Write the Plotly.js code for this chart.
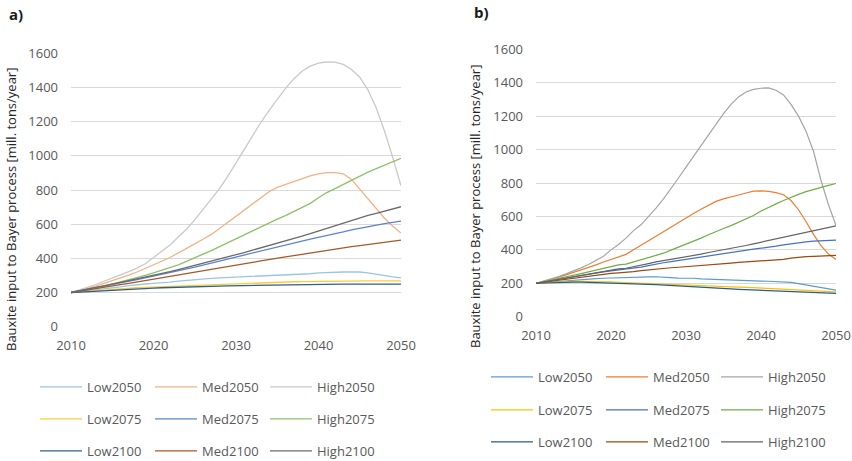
<!DOCTYPE html>
<html>
<head>
<meta charset="utf-8">
<script src="https://cdn.plot.ly/plotly-3.0.1.min.js"></script>
<style>html,body{margin:0;padding:0;background:#fff;}#chart{width:852px;height:461px;}</style>
</head>
<body>
<div id="chart"></div>
<script>
// ---------- data ----------
const years = [2010,2011,2012,2013,2014,2015,2016,2017,2018,2019,2020,2021,2022,2023,2024,2025,2026,2027,2028,2029,2030,2031,2032,2033,2034,2035,2036,2037,2038,2039,2040,2041,2042,2043,2044,2045,2046,2047,2048,2049,2050];
const seriesNames = ["Low2050","Med2050","High2050","Low2075","Med2075","High2075","Low2100","Med2100","High2100"];
const xTickVals = [2010,2020,2030,2040,2050];
const yTickVals = [0,200,400,600,800,1000,1200,1400,1600];
const yTitle = "Bauxite input to Bayer process [mill. tons/year]";
const panelLabels = ["a)","b)"];

// panel a)
const aLow2050  = [200,205,210,215,220,226,233,240,246,250,253,256,261,267,272,274,278,283,286,288,290,293,295,297,298,301,302,303,306,310,315,318,320,320,320,320,315,306,298,292,286];
const aMed2050  = [200,211,224,238,253,268,285,302,320,340,360,383,405,430,458,485,512,540,575,610,645,685,720,755,790,815,833,850,868,883,895,902,902,895,862,805,745,686,635,588,548];
const aHigh2050 = [200,214,230,247,265,283,302,322,343,368,405,440,478,525,570,625,685,745,808,880,960,1040,1120,1195,1265,1330,1395,1450,1495,1525,1542,1549,1548,1535,1505,1460,1385,1280,1145,990,825];
const aLow2075  = [200,204,208,212,216,219,222,225,228,230,232,234,237,239,241,243,245,247,249,251,252,254,255,257,259,260,262,263,264,265,265,266,266,267,267,268,268,268,268,268,268];
const aMed2075  = [200,209,218,228,237,247,256,266,276,286,296,306,315,325,337,349,361,373,385,397,409,420,432,443,455,466,477,490,501,512,522,533,543,555,567,577,586,595,603,611,618];
const aHigh2075 = [200,208,217,227,238,250,262,275,288,301,315,330,345,362,382,405,425,445,468,490,513,540,560,585,608,630,650,675,700,722,755,785,808,832,858,882,905,925,945,965,985];
const aLow2100  = [200,203,206,209,212,215,218,220,222,224,226,228,230,232,233,234,235,237,238,239,240,241,242,243,244,244,245,246,247,248,248,248,249,249,249,249,249,249,249,249,249];
const aMed2100  = [200,207,215,223,231,238,246,254,262,270,278,285,292,300,309,318,327,335,343,351,359,368,376,385,394,402,409,416,424,431,439,446,453,461,468,475,481,488,494,500,507];
const aHigh2100 = [200,209,219,229,239,249,259,269,279,290,300,311,322,334,346,358,370,383,396,409,421,434,448,461,474,487,500,515,530,545,560,575,590,605,622,638,651,663,676,689,702];

// panel b)
const bLow2050  = [200,204,208,212,216,219,222,225,228,230,232,233,234,234,236,238,239,238,234,231,231,230,226,224,222,219,218,216,215,214,213,212,211,210,205,198,191,183,176,167,159];
const bMed2050  = [200,211,223,236,250,264,280,295,310,327,342,358,373,400,425,455,482,510,537,563,590,617,643,668,690,705,715,728,740,751,753,750,742,730,695,640,570,493,425,375,342];
const bHigh2050 = [200,212,225,240,256,273,292,312,335,362,400,432,470,515,550,598,650,705,765,830,895,960,1025,1090,1155,1215,1270,1315,1345,1360,1367,1369,1355,1327,1270,1200,1110,990,815,670,545];
const bLow2075  = [200,203,206,208,210,211,212,212,211,209,208,206,204,202,200,198,196,194,192,190,188,186,184,182,180,179,178,177,176,174,172,170,167,165,163,160,157,155,153,151,149];
const bMed2075  = [200,208,216,224,232,240,247,254,261,268,274,279,283,290,297,306,316,323,330,337,344,352,359,366,373,379,385,391,398,404,410,415,422,430,437,444,448,452,455,457,458];
const bHigh2075 = [200,209,218,228,238,248,258,268,279,290,300,310,315,328,340,355,368,380,398,415,432,450,470,490,510,528,545,565,585,605,632,655,675,695,715,732,748,762,775,786,797];
const bLow2100  = [200,202,204,205,206,207,207,206,205,204,203,202,200,198,196,194,192,189,186,183,180,178,175,172,170,168,166,164,162,161,160,158,156,153,150,147,145,143,141,140,139];
const bMed2100  = [200,206,213,219,225,231,238,244,250,255,259,262,264,270,276,281,286,290,293,296,299,302,306,310,314,317,321,325,328,331,333,335,338,343,350,356,359,361,363,365,367];
const bHigh2100 = [200,208,216,224,232,240,248,256,264,272,280,286,290,298,306,318,328,335,342,350,358,366,374,384,392,400,407,416,426,436,446,457,467,477,487,497,507,516,525,534,543];

const aSeries = [aLow2050,aMed2050,aHigh2050,aLow2075,aMed2075,aHigh2075,aLow2100,aMed2100,aHigh2100];
const bSeries = [bLow2050,bMed2050,bHigh2050,bLow2075,bMed2075,bHigh2075,bLow2100,bMed2100,bHigh2100];

// ---------- styling ----------
const W = 852, H = 461;
const colorsA = ["#9DC3E6","#F4B183","#C9C9C9","#FFCC33","#5B84D0","#8CC168","#2F5F8F","#A65A2A","#6A6A6A"];
const colorsB = ["#5B9BD5","#ED7D31","#A5A5A5","#FFC000","#4472C4","#70AD47","#255E91","#9E480E","#636363"];
const FONT = "Open Sans, Noto Sans, sans-serif";
const TXT = "#595959";

const traces = [];
seriesNames.forEach((n,i)=>{
  const row = Math.floor(i/3);
  traces.push({x:years, y:aSeries[i], name:n, type:"scatter", mode:"lines",
    line:{color:colorsA[i], width:1.3}, xaxis:"x", yaxis:"y",
    legend: row===0 ? "legend" : "legend"+(row+1)});
});
seriesNames.forEach((n,i)=>{
  const row = Math.floor(i/3);
  traces.push({x:years, y:bSeries[i], name:n, type:"scatter", mode:"lines",
    line:{color:colorsB[i], width:1.2}, xaxis:"x2", yaxis:"y2",
    legend: "legend"+(row+4)});
});

function px(x){return x/W;}
function py(y){return 1-y/H;}

function xAxis(dom){
  return {domain:dom, range:[2010,2050], tickvals:xTickVals, showgrid:false, zeroline:false,
    showline:false, ticks:"", ticklabelstandoff:9, tickfont:{family:FONT,size:13,color:TXT}, fixedrange:true};
}
function yAxis(dom){
  return {domain:dom, range:[0,1600], tickvals:yTickVals, showgrid:true, gridcolor:"#D9D9D9", gridwidth:1,
    zeroline:false, showline:false, ticks:"", ticklabelstandoff:12, tickfont:{family:FONT,size:13,color:TXT}, fixedrange:true};
}

function legendAt(x,y){
  return {orientation:"h", x:x, y:y, xanchor:"left", yanchor:"middle", xref:"paper", yref:"paper",
    bgcolor:"rgba(0,0,0,0)", borderwidth:0, entrywidth:58, entrywidthmode:"pixels",
    itemwidth:42, font:{family:FONT,size:13,color:TXT}, tracegroupgap:0, itemclick:false, itemdoubleclick:false};
}

const layout = {
  width:W, height:H, margin:{l:0,r:0,t:0,b:0,pad:0,autoexpand:false}, paper_bgcolor:"#fff", plot_bgcolor:"#fff",
  showlegend:true,
  xaxis: xAxis([px(71),px(401)]),
  yaxis: yAxis([py(326.7),py(53.3)]),
  xaxis2: Object.assign(xAxis([px(536),px(836)]),{anchor:"y2"}),
  yaxis2: Object.assign(yAxis([py(316.7),py(49.3)]),{anchor:"x2"}),
  legend:  legendAt(px(35), py(387)),
  legend2: legendAt(px(35), py(419)),
  legend3: legendAt(px(35), py(451)),
  legend4: legendAt(px(486), py(377)),
  legend5: legendAt(px(486), py(410)),
  legend6: legendAt(px(486), py(442)),
  annotations:[
    {text:panelLabels[0], x:px(7), y:py(14), xref:"paper", yref:"paper", xanchor:"left", yanchor:"middle", showarrow:false, font:{family:FONT,size:15,color:"#1a1a1a",weight:"bold"}},
    {text:panelLabels[1], x:px(472), y:py(12), xref:"paper", yref:"paper", xanchor:"left", yanchor:"middle", showarrow:false, font:{family:FONT,size:15,color:"#1a1a1a",weight:"bold"}},
    {text:yTitle, x:px(11), y:py(210), xref:"paper", yref:"paper", xanchor:"center", yanchor:"middle", textangle:-90, showarrow:false, font:{family:FONT,size:13,color:"#262626"}},
    {text:yTitle, x:px(475), y:py(207), xref:"paper", yref:"paper", xanchor:"center", yanchor:"middle", textangle:-90, showarrow:false, font:{family:FONT,size:13,color:"#262626"}}
  ]
};

Plotly.newPlot("chart", traces, layout, {staticPlot:true, displayModeBar:false});
</script>
</body>
</html>
